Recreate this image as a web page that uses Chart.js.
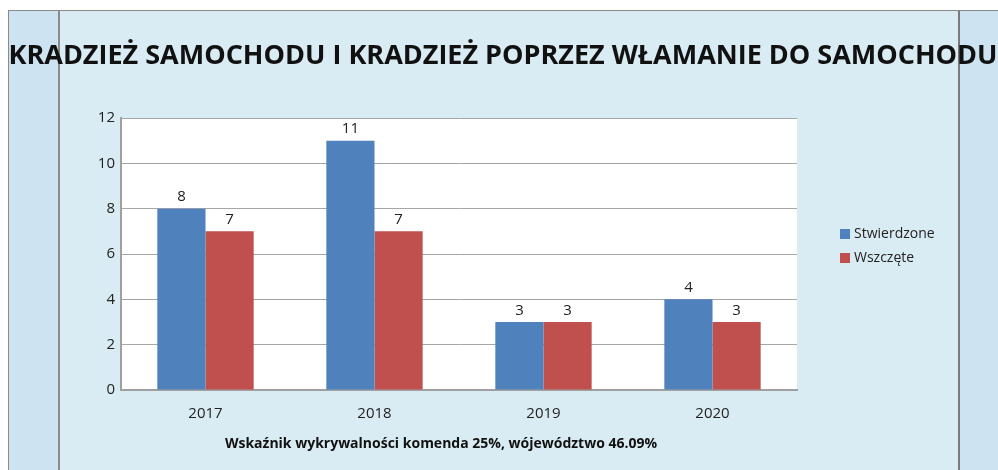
<!DOCTYPE html>
<html>
<head>
<meta charset="utf-8">
<script src="https://cdn.jsdelivr.net/npm/chart.js@4"></script>
<style>
  body { margin: 0; background: #fff; }
  #wrap { position: relative; width: 998px; height: 470px; overflow: hidden; }
  #frame { position: absolute; left: 8px; top: 10px; width: 990px; height: 460px; background: #d9ebf3;
           border-left: 1px solid #8a8a8a; border-top: 1px solid #8a8a8a; box-sizing: border-box; }
  .stripe { position: absolute; top: 11px; height: 459px; background: #cde3f2; }
  #left { left: 9px; width: 49px; border-right: 2px solid #8a8a8a; }
  #right { left: 958px; width: 40px; border-left: 2px solid #7a7a7a; }
  canvas { position: absolute; left: 0; top: 0; }
</style>
</head>
<body>
<div id="wrap">
  <div id="frame"></div>
  <div class="stripe" id="left"></div>
  <div class="stripe" id="right"></div>
  <canvas id="canvas" width="998" height="470"></canvas>
</div>
<script>
const years = ['2017', '2018', '2019', '2020']
const stwierdzone = [8, 11, 3, 4]
const wszczete = [7, 7, 3, 3]
const yTicks = [0, 2, 4, 6, 8, 10, 12]

const title = 'KRADZIEŻ SAMOCHODU I KRADZIEŻ POPRZEZ WŁAMANIE DO SAMOCHODU'
const subtitle = 'Wskaźnik wykrywalności komenda 25%, wójewództwo 46.09%'

const font = "'Open Sans', sans-serif"

// white plot area, title, subtitle, value labels and legend
const extras = {
  id: 'extras',
  beforeDraw(chart) {
    const a = chart.chartArea
    const ctx = chart.ctx
    ctx.save()
    ctx.fillStyle = '#fff'
    ctx.fillRect(a.left, a.top, a.right - a.left, a.bottom - a.top)
    ctx.restore()
  },
  afterDraw(chart) {
    const ctx = chart.ctx
    ctx.save()
    ctx.fillStyle = '#111'
    ctx.textAlign = 'center'
    ctx.textBaseline = 'alphabetic'
    ctx.font = 'bold 27px ' + font
    ctx.fillText(title, 503, 64)
    ctx.font = 'bold 14px ' + font
    ctx.fillText(subtitle, 441, 448)

    ctx.font = '15px ' + font
    ctx.fillStyle = '#222'
    ctx.textBaseline = 'bottom'
    chart.data.datasets.forEach((ds, i) => {
      chart.getDatasetMeta(i).data.forEach((bar, j) => {
        ctx.fillText(ds.data[j], bar.x, bar.y - 4)
      })
    })

    ctx.font = '14px ' + font
    ctx.textAlign = 'left'
    ctx.textBaseline = 'middle'
    chart.data.datasets.forEach((ds, i) => {
      const y = 234 + i * 24
      ctx.fillStyle = ds.backgroundColor
      ctx.fillRect(840, y - 5, 10, 10)
      ctx.fillStyle = '#222'
      ctx.fillText(ds.label, 854, y)
    })
    ctx.restore()
  }
}

const data = {
  labels: years,
  datasets: [
    {
      label: 'Stwierdzone',
      backgroundColor: '#4f81bd',
      data: stwierdzone,
    },
    {
      label: 'Wszczęte',
      backgroundColor: '#c0504d',
      data: wszczete,
    },
  ],
}

const config = {
  type: 'bar',
  data: data,
  plugins: [extras],
  options: {
    responsive: false,
    animation: false,
    layout: { padding: { left: 40, right: 201, top: 118, bottom: 40 } },
    plugins: { legend: { display: false }, tooltip: { enabled: false } },
    datasets: { bar: { categoryPercentage: 0.57, barPercentage: 1 } },
    scales: {
      x: {
        afterFit: s => { s.height = 40 },
        grid: { display: false },
        border: { color: '#a0a0a0', width: 2 },
        ticks: { color: '#222', font: { family: font, size: 15 }, padding: 7 },
      },
      y: {
        min: 0,
        max: 12,
        afterFit: s => { s.width = 81 },
        afterBuildTicks: s => { s.ticks = yTicks.map(v => ({ value: v })) },
        grid: { color: '#a6a6a6', drawTicks: false },
        border: { color: '#a0a0a0', width: 2 },
        ticks: { color: '#222', font: { family: font, size: 15 }, padding: 6 },
      },
    },
  },
}

const canvas = document.getElementById('canvas')
const chart = new Chart(canvas, config)
</script>
</body>
</html>
